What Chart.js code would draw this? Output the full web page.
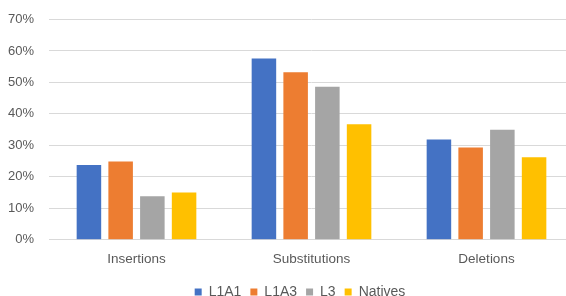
<!DOCTYPE html>
<html><head><meta charset="utf-8">
<script src="https://cdn.jsdelivr.net/npm/chart.js@4.4.0/dist/chart.umd.min.js"></script>
<style>html,body{margin:0;padding:0;overflow:hidden;background:#fff}#wrap{width:574px;height:311px;position:relative}</style>
</head><body><div id="wrap"><canvas id="c"></canvas></div>
<script>
const categories = ['Insertions', 'Substitutions', 'Deletions'];
const seriesNames = ['L1A1', 'L1A3', 'L3', 'Natives'];
const L1A1 = [23.8, 57.6, 31.9];
const L1A3 = [24.9, 53.2, 29.3];
const L3 = [13.8, 48.6, 35.0];
const Natives = [15.0, 36.7, 26.2];
const yTickValues = [0, 10, 20, 30, 40, 50, 60, 70];

const colors = ['#4472C4', '#ED7D31', '#A5A5A5', '#FFC000'];
const values = [L1A1, L1A3, L3, Natives];
const txt = '#595959';
const fam = '"Liberation Sans", Arial, sans-serif';

const legendShift = {
  id: 'legendShift',
  afterLayout(chart) {
    const l = chart.legend;
    if (!l) return;
    l.left += 13; l.right += 13;
    l.top -= 2; l.bottom -= 2;
  }
};

new Chart(document.getElementById('c'), {
  type: 'bar',
  data: {
    labels: categories,
    datasets: seriesNames.map((n, i) => ({
      label: n, data: values[i], backgroundColor: colors[i], borderWidth: 0,
      categoryPercentage: 0.725, barPercentage: 0.773
    }))
  },
  options: {
    responsive: true, maintainAspectRatio: false, animation: false, devicePixelRatio: 1,
    layout: { padding: { top: 19.5, left: 0, right: 0, bottom: 0 } },
    plugins: {
      tooltip: { enabled: false },
      legend: {
        position: 'bottom',
        labels: { boxWidth: 7, boxHeight: 7, padding: 9, color: txt, font: { family: fam, size: 14 } }
      }
    },
    scales: {
      y: {
        min: 0, max: 70,
        afterBuildTicks: s => { s.ticks = yTickValues.map(v => ({ value: v })); },
        afterFit: s => { s.width = 49; s.paddingTop = 0; },
        ticks: { callback: v => v + '%', padding: 15, color: txt, font: { family: fam, size: 13 } },
        grid: { color: '#d9d9d9', drawTicks: false },
        border: { display: false }
      },
      x: {
        grid: { display: false, drawTicks: false },
        border: { color: '#d9d9d9' },
        ticks: { padding: 11, color: txt, font: { family: fam, size: 13.5 } }
      }
    }
  },
  plugins: [legendShift]
});
</script></body></html>
